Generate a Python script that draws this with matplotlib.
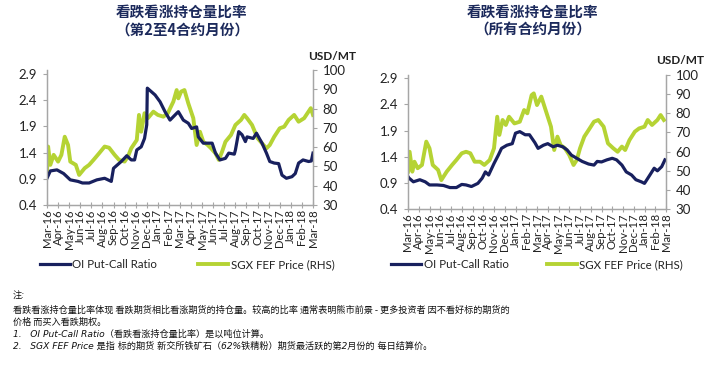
"""
Put-call open interest ratio vs SGX FEF price, two panels
"""

import matplotlib
matplotlib.use("Agg")
import matplotlib.pyplot as plt

plt.rcParams['font.family'] = ['Lato', 'Noto Sans CJK SC', 'DejaVu Sans']

# month labels, Mar-16 .. Mar-18
months = ['Mar-16', 'Apr-16', 'May-16', 'Jun-16', 'Jul-16', 'Aug-16', 'Sep-16',
          'Oct-16', 'Nov-16', 'Dec-16', 'Jan-17', 'Feb-17', 'Mar-17', 'Apr-17',
          'May-17', 'Jun-17', 'Jul-17', 'Aug-17', 'Sep-17', 'Oct-17', 'Nov-17',
          'Dec-17', 'Jan-18', 'Feb-18', 'Mar-18']

# left panel: 2nd to 4th contract months (x = months since Mar-16)
left_ratio_t = [0, 0.3, 0.9, 1.5, 2.1, 2.8, 3.2, 3.8, 4.5, 5.2, 5.8, 6.0, 6.7, 7.2,
                7.6, 7.9, 8.1, 8.5, 8.8, 9.0, 9.05, 9.75, 10.2, 10.65, 11.1, 11.7,
                11.85, 12.3, 12.75, 13.05, 13.5, 13.65, 14.1, 14.9, 15.2, 15.6,
                16.1, 16.4, 16.9, 17.0, 17.3, 17.6, 17.9, 18.05, 18.6, 18.9, 19.4,
                19.8, 20.1, 20.5, 20.9, 21.2, 21.6, 22.1, 22.4, 22.7, 23.1, 23.6,
                23.85, 24]
left_ratio = [0.91, 1.05, 1.07, 1.0, 0.88, 0.85, 0.82, 0.82, 0.88, 0.91, 0.85, 1.1,
              1.23, 1.34, 1.26, 1.26, 1.45, 1.51, 1.67, 1.93, 2.63, 2.50, 2.37,
              2.18, 2.02, 2.15, 2.18, 2.02, 1.96, 1.86, 1.89, 1.70, 1.58, 1.58,
              1.39, 1.26, 1.29, 1.39, 1.37, 1.45, 1.80, 1.74, 1.61, 1.70, 1.67,
              1.77, 1.58, 1.39, 1.23, 1.20, 1.19, 0.97, 0.91, 0.94, 1.0, 1.20,
              1.26, 1.23, 1.24, 1.39]
left_fef_t = [0, 0.1, 0.3, 0.6, 1.0, 1.3, 1.6, 1.9, 2.1, 2.6, 2.9, 3.4, 3.8, 4.2,
              4.7, 5.2, 5.6, 6.1, 6.5, 7.0, 7.3, 7.6, 8.1, 8.3, 8.5, 8.8, 9.1,
              9.6, 10, 10.5, 10.9, 11.4, 11.7, 11.85, 12.1, 12.4, 12.75, 13.2,
              13.5, 13.8, 14.1, 14.5, 14.8, 15.2, 15.5, 15.8, 16.1, 16.6, 17.0,
              17.5, 17.8, 18.05, 18.5, 19.0, 19.4, 19.8, 20.1, 20.5, 21.0, 21.4,
              21.8, 22.3, 22.7, 23.2, 23.5, 23.8, 24]
left_fef = [47.3, 60.3, 50.8, 56, 52.5, 56, 65.4, 61.1, 52.5, 50.8, 45.6, 49.1,
            50.8, 53.4, 56.8, 60.3, 59.7, 56, 53.4, 52.5, 55.1, 59.4, 63.7, 76.7,
            68.0, 77.6, 75, 78.4, 76.7, 75.8, 77.6, 83.6, 89.6, 85.3, 88.8, 89.6,
            82.7, 75, 61.1, 68, 62.8, 61.1, 59.4, 56.8, 53.4, 57.7, 62.8, 66.3,
            71.5, 74.1, 76.7, 75, 71.5, 64.6, 62.0, 59.4, 61.1, 65.4, 69.8, 70.6,
            74.1, 76.7, 73.2, 75, 77.6, 80.2, 76.7]

# right panel: all contract months
right_ratio_t = [0, 0.1, 0.5, 1.1, 1.6, 2.0, 2.7, 3.3, 3.9, 4.5, 5.0, 5.4, 5.9,
                 6.5, 6.9, 7.2, 7.5, 8.0, 8.4, 8.7, 9.2, 9.7, 10.0, 10.4, 10.9,
                 11.3, 11.8, 12.1, 12.6, 13.0, 13.5, 13.9, 14.4, 14.8, 15.2, 15.7,
                 16.2, 16.8, 17.3, 17.6, 18.0, 18.5, 19.0, 19.4, 19.9, 20.3, 20.8,
                 21.2, 21.7, 22.0, 22.5, 22.9, 23.2, 23.6, 23.9]
right_ratio = [1.02, 0.99, 0.92, 0.96, 0.92, 0.86, 0.86, 0.85, 0.81, 0.81, 0.87,
               0.86, 0.83, 0.89, 0.99, 1.11, 1.05, 1.27, 1.43, 1.56, 1.62, 1.65,
               1.85, 1.88, 1.82, 1.82, 1.67, 1.56, 1.62, 1.65, 1.59, 1.62, 1.59,
               1.53, 1.43, 1.37, 1.31, 1.26, 1.24, 1.31, 1.30, 1.34, 1.37, 1.34,
               1.24, 1.11, 1.05, 0.96, 0.92, 0.89, 1.05, 1.18, 1.13, 1.21, 1.34]
right_fef_t = [0, 0.15, 0.4, 0.6, 0.9, 1.3, 1.7, 2.0, 2.3, 2.8, 3.1, 3.6, 4.1, 4.5,
               5.0, 5.4, 5.8, 6.2, 6.7, 7.1, 7.6, 8.0, 8.3, 8.5, 8.8, 9.1, 9.4,
               9.9, 10.4, 10.8, 11.1, 11.5, 11.7, 12.0, 12.4, 12.8, 13.3, 13.6,
               13.9, 14.2, 14.6, 15.0, 15.4, 15.7, 16.0, 16.4, 16.9, 17.3, 17.7,
               18.2, 18.6, 19.1, 19.5, 19.9, 20.2, 20.6, 21.1, 21.5, 22.0, 22.3,
               22.7, 23.2, 23.5, 23.8]
right_fef = [49.5, 59.9, 49.5, 54.7, 51.3, 53, 65.2, 61.7, 53, 50.4, 45.1, 49.5,
             53, 55.6, 59.1, 59.9, 59.1, 54.7, 54.7, 53, 55.6, 61.7, 78.2, 68.7,
             76.5, 73.9, 78.2, 74.7, 75.6, 81.7, 80.0, 89.5, 90.4, 84.3, 88.7,
             81.7, 73, 60.8, 67.8, 63.4, 61.7, 58.2, 53, 55.6, 61.7, 67.8, 72.1,
             75.6, 76.5, 73, 64.3, 61.7, 59.9, 62.6, 60.8, 66, 70.4, 72.1, 73,
             76.5, 73.9, 76.5, 79.1, 76.5]

NAVY = '#18205e'
LIME = '#b5d334'
GREY = '#a6a6a6'
TITLE_C = '#1c2a5c'


def panel(rect, ratio_t, ratio, fef_t, fef, ltop):
    ax = fig.add_axes(rect)
    ax2 = ax.twinx()
    # ratio line drawn over the price line
    ax.set_zorder(ax2.get_zorder() + 1)
    ax.patch.set_visible(False)

    l1, = ax.plot(ratio_t, ratio, color=NAVY, lw=2.3, solid_joinstyle='round')
    l2, = ax2.plot(fef_t, fef, color=LIME, lw=2.8, solid_joinstyle='round')

    ax.set_xlim(0, 24)
    ax.set_ylim(0.4, ltop)
    ax.set_yticks([0.4, 0.9, 1.4, 1.9, 2.4, 2.9])
    ax.set_yticklabels(['0.4', '0.9', '1.4', '1.9', '2.4', '2.9'])
    ax2.set_ylim(30, 100)
    ax2.set_yticks(range(30, 101, 10))

    ax.set_xticks(range(25))
    ax.set_xticklabels(months, rotation=90, fontsize=8.2, color='#222222')

    for a in (ax, ax2):
        a.spines['top'].set_visible(False)
        for s in ('left', 'right', 'bottom'):
            a.spines[s].set_color(GREY)
            a.spines[s].set_linewidth(0.9)
    ax.tick_params(axis='y', labelsize=9.5, colors='#222222', color=GREY,
                   length=3, direction='out', pad=4)
    ax2.tick_params(axis='y', labelsize=9.5, colors='#222222', color=GREY,
                    length=3, direction='out', pad=4)
    ax.tick_params(axis='x', color=GREY, length=4, direction='inout', pad=1)
    return ax, l1, l2


fig = plt.figure(figsize=(7.28, 3.76), dpi=100)

axl, a1, a2 = panel([47 / 728, 1 - 205 / 376, 266 / 728, 135 / 376],
                    left_ratio_t, left_ratio, left_fef_t, left_fef, 2.976)
axr, b1, b2 = panel([408 / 728, 1 - 209 / 376, 258 / 728, 134 / 376],
                    right_ratio_t, right_ratio, right_fef_t, right_fef, 2.963)

# titles
fig.text(182 / 728, 1 - 21 / 376, '看跌看涨持仓量比率\n（第2至4合约月份）', ha='center',
         va='center', fontsize=10.5, fontweight='bold', color=TITLE_C,
         family=['Noto Sans CJK SC'], linespacing=1.15)
fig.text(533 / 728, 1 - 21 / 376, '看跌看涨持仓量比率\n（所有合约月份）', ha='center',
         va='center', fontsize=10.5, fontweight='bold', color=TITLE_C,
         family=['Noto Sans CJK SC'], linespacing=1.15)
fig.text(332 / 728, 1 - 57 / 376, 'USD/MT', ha='center', va='center',
         fontsize=8.5, fontweight='bold', color='#222222')
fig.text(680 / 728, 1 - 61 / 376, 'USD/MT', ha='center', va='center',
         fontsize=8.5, fontweight='bold', color='#222222')

# legends
for lines, cx, gap in (((a1, a2), 187, 3.6), ((b1, b2), 537, 3.3)):
    fig.legend(lines, ['OI Put-Call Ratio', 'SGX FEF Price (RHS)'], ncol=2,
               loc='center', bbox_to_anchor=(cx / 728, 1 - 265 / 376),
               frameon=False, fontsize=8.3, handlelength=2.6, handletextpad=0.2,
               columnspacing=gap, labelcolor='#222222')

# notes
note_font = ['Noto Sans CJK SC', 'DejaVu Sans']
latin_font = ['DejaVu Sans', 'Noto Sans CJK SC']
notes = [
    (295, '注:', 'italic', latin_font),
    (310, '看跌看涨持仓量比率体现 看跌期货相比看涨期货的持仓量。较高的比率 通常表明熊市前景 - 更多投资者 因不看好标的期货的', 'normal', note_font),
    (322, '价格 而买入看跌期权。', 'normal', note_font),
    (334, '1.   OI Put-Call Ratio（看跌看涨持仓量比率）是以吨位计算。', 'italic', latin_font),
    (346, '2.   SGX FEF Price 是指 标的期货 新交所铁矿石（62%铁精粉）期货最活跃的第2月份的 每日结算价。', 'italic', latin_font),
]
for y, txt, st, fam in notes:
    fig.text(13 / 728, 1 - y / 376, txt, ha='left', va='center', fontsize=6.6,
             family=fam, style=st, color='#111111')

fig.savefig('out.png', dpi=100)
